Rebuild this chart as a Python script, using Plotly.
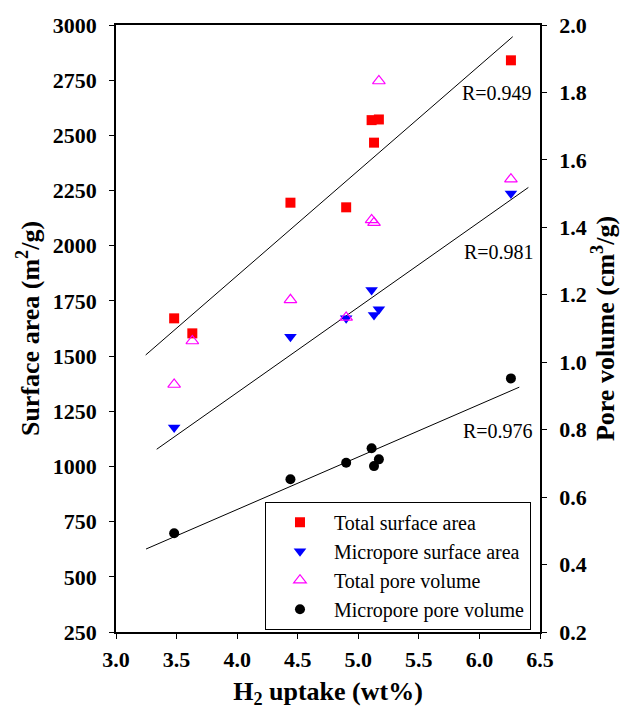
import numpy as np
import plotly.graph_objects as go

# ---- data ----
h2_uptake = [3.48, 3.63, 4.44, 4.90, 5.11, 5.13, 5.17, 6.26]
total_surface_area = [1671, 1603, 2195, 2174, 2569, 2467, 2572, 2840]

h2_micro_sa = [3.48, 4.44, 4.90, 5.11, 5.13, 5.17, 6.26]
micropore_surface_area = [1176, 1588, 1671, 1799, 1686, 1712, 2237]

total_pore_volume = [0.934, 1.063, 1.185, 1.133, 1.422, 1.414, 1.834, 1.543]

h2_micro_pv = [3.48, 4.44, 4.90, 5.11, 5.13, 5.17, 6.26]
micropore_pore_volume = [0.493, 0.653, 0.702, 0.745, 0.692, 0.712, 0.952]

# regression lines: slope, intercept, x-range, axis, label
fit_slopes = [475.9, 386.6, 0.1558]
fit_intercepts = [-39.3, -211.7, -0.060]
fit_x_start = [3.245, 3.336, 3.248]
fit_x_end = [6.275, 6.404, 6.329]
fit_axes = ["y", "y", "y2"]
r_labels = ["R=0.949", "R=0.981", "R=0.976"]
r_label_x = [6.141, 6.158, 6.153]
r_label_y = [2692, 1973, 1160]

x_ticks = [3.0, 3.5, 4.0, 4.5, 5.0, 5.5, 6.0, 6.5]
y_left_ticks = [250, 500, 750, 1000, 1250, 1500, 1750, 2000, 2250, 2500, 2750, 3000]
y_right_ticks = [0.2, 0.4, 0.6, 0.8, 1.0, 1.2, 1.4, 1.6, 1.8, 2.0]

FONT = "Liberation Serif"

fig = go.Figure()

for s, b, x0, x1, ax in zip(fit_slopes, fit_intercepts, fit_x_start, fit_x_end, fit_axes):
    xs = np.array([x0, x1])
    fig.add_trace(go.Scatter(x=xs, y=s * xs + b, mode="lines",
                             line=dict(color="black", width=1),
                             yaxis=ax, showlegend=False, hoverinfo="skip"))

fig.add_trace(go.Scatter(x=h2_uptake, y=total_surface_area, mode="markers",
                         name="Total surface area",
                         marker=dict(symbol="square", size=10, color="#FF0000")))
fig.add_trace(go.Scatter(x=h2_micro_sa, y=micropore_surface_area, mode="markers",
                         name="Micropore surface area",
                         marker=dict(symbol="triangle-down", size=11, color="#0000FF")))
fig.add_trace(go.Scatter(x=h2_uptake, y=total_pore_volume, mode="markers",
                         name="Total pore volume", yaxis="y2",
                         marker=dict(symbol="triangle-up-open", size=11, color="#FF00FF",
                                     line=dict(width=1.2, color="#FF00FF"))))
fig.add_trace(go.Scatter(x=h2_micro_pv, y=micropore_pore_volume, mode="markers",
                         name="Micropore pore volume", yaxis="y2",
                         marker=dict(symbol="circle", size=10, color="black")))

for txt, xx, yy in zip(r_labels, r_label_x, r_label_y):
    fig.add_annotation(x=xx, y=yy, text=txt, showarrow=False, xref="x", yref="y",
                       font=dict(family=FONT, size=20, color="black"))

tickfont = dict(family=FONT, size=22, color="black", weight="bold")
titlefont = dict(family=FONT, size=26, color="black", weight="bold")

fig.update_layout(
    width=630, height=709,
    margin=dict(l=116, r=90, t=25, b=77, autoexpand=False),
    paper_bgcolor="white", plot_bgcolor="white",
    font=dict(family=FONT, color="black"),
    xaxis=dict(range=[3.0, 6.5], tickvals=x_ticks, tickformat=".1f",
               ticks="outside", ticklen=5, tickcolor="black", tickwidth=1,
               showline=True, linecolor="black", linewidth=1.5, mirror=True,
               showgrid=False, zeroline=False, tickfont=tickfont,
               ticklabelstandoff=2, automargin=False,
               title=dict(text="H<sub>2</sub> uptake (wt%)", font=titlefont, standoff=11)),
    yaxis=dict(range=[250, 3000], tickvals=y_left_ticks,
               ticks="outside", ticklen=5, tickcolor="black", tickwidth=1,
               showline=True, linecolor="black", linewidth=1.5,
               showgrid=False, zeroline=False, tickfont=tickfont,
               ticklabelstandoff=8, automargin=False,
               title=dict(text="Surface area (m<sup>2</sup>/g)", font=titlefont, standoff=6)),
    yaxis2=dict(range=[0.2, 2.0], tickvals=y_right_ticks, tickformat=".1f",
                overlaying="y", side="right",
                ticks="outside", ticklen=5, tickcolor="black", tickwidth=1,
                showline=True, linecolor="black", linewidth=1.5,
                showgrid=False, zeroline=False, tickfont=tickfont,
                ticklabelstandoff=8, automargin=False,
                title=dict(text="Pore volume (cm<sup>3</sup>/g)", font=titlefont, standoff=9)),
    legend=dict(x=0.3514, y=0.2147, xanchor="left", yanchor="top",
                bgcolor="white", bordercolor="black", borderwidth=1,
                font=dict(family=FONT, size=20, color="black"),
                itemwidth=58, tracegroupgap=0),
    showlegend=True,
)

fig.write_html("out.html")
